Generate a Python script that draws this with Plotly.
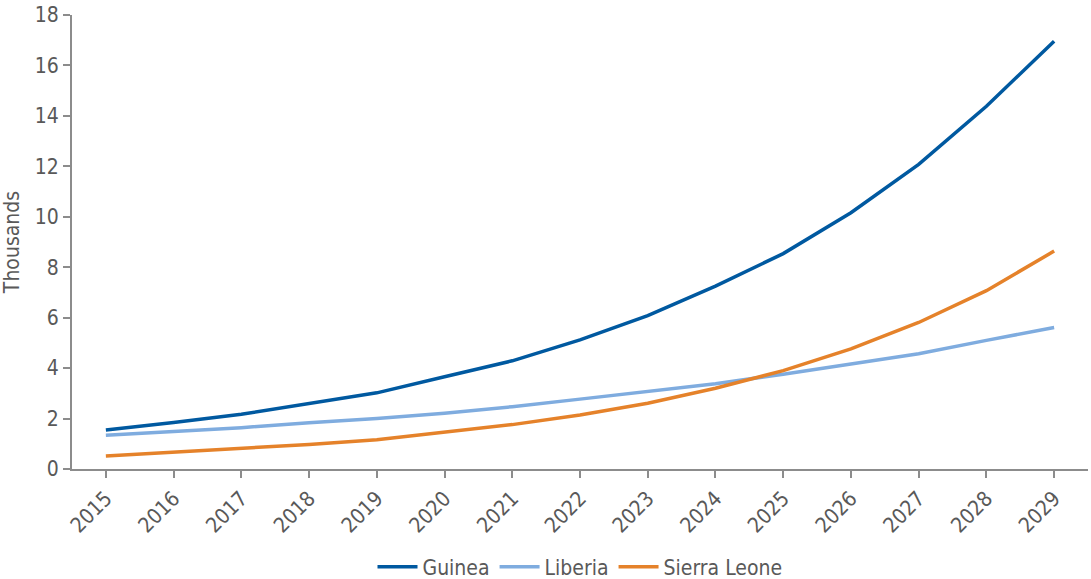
import plotly.graph_objects as go

years = [str(y) for y in range(2015, 2030)]
guinea = [1.55, 1.84, 2.17, 2.58, 3.02, 3.66, 4.29, 5.12, 6.08, 7.25, 8.54, 10.16, 12.08, 14.38, 16.96]
liberia = [1.34, 1.48, 1.64, 1.83, 2.0, 2.21, 2.47, 2.77, 3.06, 3.38, 3.76, 4.16, 4.57, 5.10, 5.61]
sierra_leone = [0.52, 0.67, 0.79, 0.97, 1.16, 1.46, 1.76, 2.14, 2.61, 3.2, 3.9, 4.76, 5.81, 7.07, 8.64]

series_names = ["Guinea", "Liberia", "Sierra Leone"]
series_values = [guinea, liberia, sierra_leone]
colors = ["#0059a0", "#7facdf", "#e5822a"]

FONT = "DejaVu Sans Condensed, Roboto, sans-serif"
TXT = "#595959"
AX = "#8c8c8c"

fig = go.Figure()
for name, vals, c in zip(series_names, series_values, colors):
    fig.add_trace(go.Scatter(x=years, y=vals, name=name, mode="lines",
                             line=dict(color=c, width=3.5)))

fig.update_layout(
    width=1091, height=579,
    margin=dict(l=72, r=3, t=15, b=110, autoexpand=False),
    paper_bgcolor="white", plot_bgcolor="white",
    font=dict(family=FONT, size=21, color=TXT),
    showlegend=True,
    legend=dict(orientation="h", x=0.5, xanchor="center",
                yref="container", y=12 / 579, yanchor="middle",
                font=dict(family=FONT, size=21, color=TXT), itemwidth=40,
                traceorder="normal"),
)
fig.update_xaxes(
    type="category", range=[-0.5, 14.5], automargin=False,
    showline=True, linecolor=AX, linewidth=2,
    ticks="outside", ticklen=7, tickcolor=AX, tickwidth=1.5,
    tickangle=-45, showgrid=False, zeroline=False,
    tickfont=dict(family=FONT, size=21, color=TXT),
)
fig.update_yaxes(
    range=[0, 18], dtick=2, tick0=0, automargin=False,
    showline=True, linecolor=AX, linewidth=2,
    ticks="outside", ticklen=7, tickcolor=AX, tickwidth=1.5,
    showgrid=False, zeroline=False,
    tickfont=dict(family=FONT, size=21, color=TXT),
    title=dict(text="Thousands", font=dict(family=FONT, size=21, color=TXT), standoff=10),
)

fig.write_html("out.html")
